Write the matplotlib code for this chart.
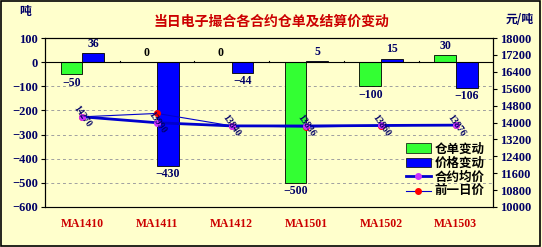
import numpy as np
import matplotlib.pyplot as plt
from matplotlib.lines import Line2D
from matplotlib.patches import Patch

plt.rcParams['font.family'] = ['Noto Sans CJK SC', 'DejaVu Sans']

# Data
contracts = ['MA1410', 'MA1411', 'MA1412', 'MA1501', 'MA1502', 'MA1503']
receipt_change = [-50, 0, 0, -500, -100, 30]      # 仓单变动 (吨)
price_change = [36, -430, -44, 5, 15, -106]       # 价格变动
avg_price = [14270, 13990, 13840, 13836, 13860, 13876]  # 合约均价
prev_price = [14270, 14430, 13840, 13790, 13840, 13890]  # 前一日价

bg = '#FFFFCC'
navy = '#000066'
num_font = dict(family=['Liberation Serif'], weight='bold')

fig = plt.figure(figsize=(5.42, 2.47), dpi=100, facecolor=bg)
ax = fig.add_axes([0.083, 0.162, 0.827, 0.684], facecolor=bg)
ax2 = ax.twinx()

x = np.arange(len(contracts))
w = 0.29

ax.bar(x - w / 2, receipt_change, w, color='#33FF33', edgecolor='black', linewidth=0.6, zorder=2)
ax.bar(x + w / 2, price_change, w, color='#0000FF', edgecolor='black', linewidth=0.6, zorder=2)

for i in range(len(x)):
    for val, off in ((receipt_change[i], -w / 2), (price_change[i], w / 2)):
        if val > 0 or (val == 0 and off < 0):
            ax.text(x[i] + off, max(val, 0) + 14, str(val), ha='center', va='bottom',
                    fontsize=8.5, color=navy if val != 0 else 'black', **num_font)
        elif val < 0:
            ax.text(x[i] + off, val - 10, '\u2212' + str(-val), ha='center', va='top',
                    fontsize=8.5, color=navy, **num_font)

ax.set_xlim(-0.5, len(x) - 0.5)
ax.set_ylim(-600, 100)
ax.set_yticks(range(-600, 101, 100))
ax.set_yticklabels([str(v) if v >= 0 else '\u2212' + str(-v) for v in range(-600, 101, 100)],
                   fontsize=9, color=navy, **num_font)
ax.yaxis.grid(True, linestyle=(0, (3, 3)), color='#A0A0A0', linewidth=0.7, zorder=0)
ax.set_axisbelow(True)
ax.axhline(0, color='black', linewidth=0.8, zorder=3)
for b in np.arange(0.5, len(x) - 0.5, 1):
    ax.plot([b, b], [0, 6], color='black', linewidth=0.8, zorder=3)

ax.set_xticks(x)
ax.set_xticklabels(contracts, fontsize=8.5, color='#CC0000', **num_font)
ax.tick_params(axis='x', length=0, pad=8)
ax.tick_params(axis='y', length=3, direction='out', pad=2)

ax2.plot(x, prev_price, color='#0000CC', linewidth=0.8, marker='o', markersize=4,
         markerfacecolor='#FF0000', markeredgecolor='#FF0000', zorder=4)
ax2.plot(x, avg_price, color='#0000CC', linewidth=2, marker='o', markersize=4,
         markerfacecolor='#CC33FF', markeredgecolor='#CC33FF', zorder=5)
for i in range(len(x)):
    ax2.text(x[i], avg_price[i], str(avg_price[i]), rotation=-55, ha='center', va='center',
             fontsize=7, color=navy, zorder=6, **num_font)

ax2.set_ylim(10000, 18000)
ax2.set_yticks(range(10000, 18001, 800))
ax2.set_yticklabels([str(v) for v in range(10000, 18001, 800)], fontsize=9, color=navy, **num_font)
ax2.tick_params(axis='y', length=3, direction='out', pad=2)

for a in (ax, ax2):
    for s in a.spines.values():
        s.set_color('black')
        s.set_linewidth(0.8)
ax.spines['bottom'].set_color('#808080')

handles = [Patch(facecolor='#33FF33', edgecolor='black', linewidth=0.5),
           Patch(facecolor='#0000FF', edgecolor='black', linewidth=0.5),
           Line2D([0], [0], color='#0000CC', linewidth=2, marker='o', markersize=4,
                  markerfacecolor='#CC33FF', markeredgecolor='#CC33FF'),
           Line2D([0], [0], color='#0000CC', linewidth=0.8, marker='o', markersize=4,
                  markerfacecolor='#FF0000', markeredgecolor='#FF0000')]
labels = ['仓单变动', '价格变动', '合约均价', '前一日价']
leg = ax2.legend(handles, labels, loc='lower right', bbox_to_anchor=(1.0, 0.0), frameon=False,
                 prop=dict(family=['Noto Sans CJK SC'], weight='bold', size=9),
                 handlelength=2.0, handleheight=0.8, labelspacing=0.1, handletextpad=0.3,
                 borderaxespad=0.3)
leg.set_zorder(10)

fig.text(0.5, 0.91, '当日电子撮合各合约仓单及结算价变动', ha='center', va='center',
         fontsize=10, color='#CC0000', weight='bold')
fig.text(0.035, 0.955, '吨', ha='left', va='center', fontsize=8.5, color=navy, weight='bold')
fig.text(0.985, 0.92, '元/吨', ha='right', va='center', fontsize=8.5, color=navy, weight='bold')

fig.patches.append(plt.Rectangle((0.002, 0.004), 0.994, 0.99, transform=fig.transFigure,
                                 fill=False, edgecolor='black', linewidth=1.2))

fig.savefig('out.png', dpi=100, facecolor=bg)
